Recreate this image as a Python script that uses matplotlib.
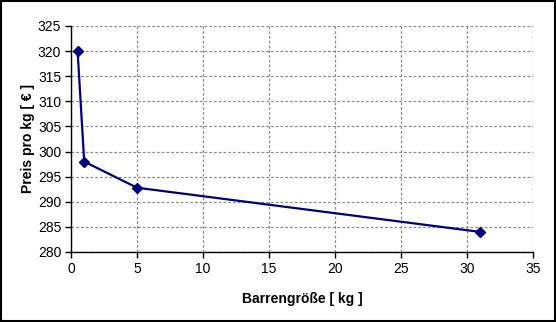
import matplotlib.pyplot as plt
from matplotlib.patches import Rectangle

plt.rcParams['font.family'] = ['Liberation Sans', 'DejaVu Sans']

# data
groesse = [0.5, 1, 5, 31]
preis = [320, 298, 292.8, 284]
x_ticks = [0, 5, 10, 15, 20, 25, 30, 35]
y_ticks = [280, 285, 290, 295, 300, 305, 310, 315, 320, 325]

fig = plt.figure(figsize=(5.56, 3.22), dpi=100)
ax = fig.add_axes([0.1277, 0.2174, 0.8309, 0.7019])

ax.plot(groesse, preis, color='#000080', lw=1.6, marker='D', ms=5.5,
        markerfacecolor='#000080', markeredgecolor='#000080', clip_on=False, zorder=3)

ax.set_xlim(0, 35)
ax.set_ylim(280, 325)
ax.set_xticks(x_ticks)
ax.set_yticks(y_ticks)
ax.grid(True, color='#8c8c8c', ls=(0, (2.2, 1.6)), lw=0.9)
ax.spines['top'].set_visible(False)
ax.spines['right'].set_visible(False)
ax.spines['left'].set_linewidth(1)
ax.spines['bottom'].set_linewidth(1)
ax.tick_params(direction='out', length=4, width=1, labelsize=10, pad=3)

ax.set_xlabel('Barrengröße [ kg ]', fontsize=10, fontweight='bold', labelpad=12)
ax.set_ylabel('Preis pro kg [ € ]', fontsize=10, fontweight='bold', labelpad=2)

# figure frame
fig.patches.append(Rectangle((0.001, 0.002), 0.997, 0.995, transform=fig.transFigure,
                             fill=False, edgecolor='black', lw=1.5))

fig.savefig('out.png', dpi=100)
